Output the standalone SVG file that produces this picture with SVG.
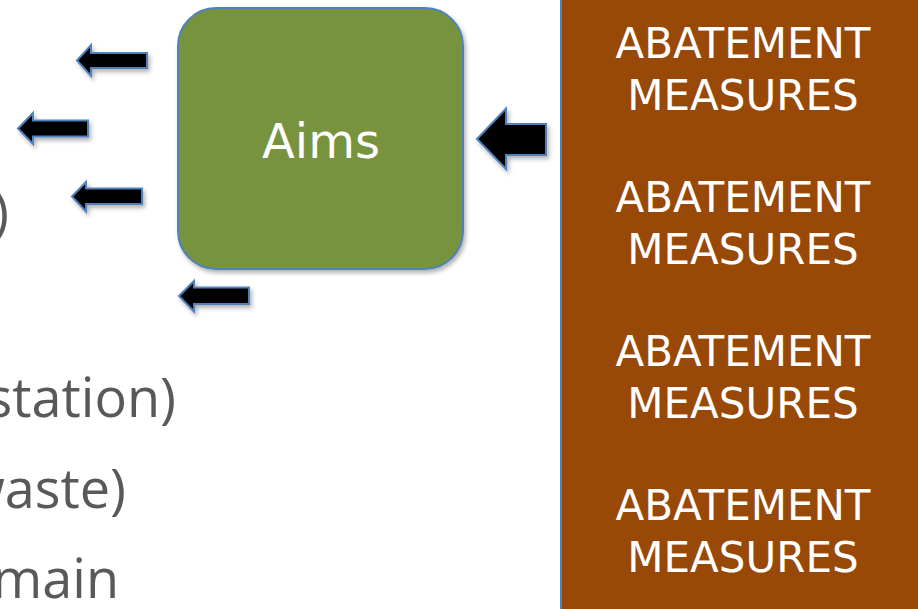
<svg xmlns="http://www.w3.org/2000/svg" width="918" height="609" viewBox="0 0 918 609">
  <defs>
    <filter id="sh" x="-20%" y="-20%" width="140%" height="140%">
      <feDropShadow dx="2" dy="3" stdDeviation="2" flood-color="#000" flood-opacity="0.3"/>
    </filter>
  </defs>
  <style>
    .arrow { fill: #000; stroke: #4F81BD; stroke-width: 2; stroke-linejoin: miter; filter: url(#sh); }
    .side { font-family: "Open Sans", "Liberation Sans", sans-serif; font-size: 54px; fill: #595959; text-anchor: end; }
    .abate { font-family: "DejaVu Sans", Verdana, sans-serif; font-size: 42px; fill: #FFFFFF; text-anchor: middle; }
  </style>
  <rect width="918" height="609" fill="#FFFFFF"/>

  <g id="side-text">
    <text class="side" x="9" y="231">)</text>
    <text class="side" x="176" y="417">station)</text>
    <text class="side" x="126" y="508">waste)</text>
    <text class="side" x="119" y="598" font-size="51">main</text>
  </g>

  <g id="abatement">
    <rect x="561" y="-5" width="362" height="620" fill="#984807" stroke="#4F81BD" stroke-width="2"/>
    <text class="abate" x="743" y="58">ABATEMENT</text>
    <text class="abate" x="743" y="110">MEASURES</text>
    <text class="abate" x="743" y="212">ABATEMENT</text>
    <text class="abate" x="743" y="264">MEASURES</text>
    <text class="abate" x="743" y="366">ABATEMENT</text>
    <text class="abate" x="743" y="418">MEASURES</text>
    <text class="abate" x="743" y="520">ABATEMENT</text>
    <text class="abate" x="743" y="572">MEASURES</text>
  </g>

  <g id="aims">
    <rect x="178" y="8" width="285" height="261" rx="38" ry="38" fill="#77933C" stroke="#4F81BD" stroke-width="2" filter="url(#sh)"/>
    <text x="321" y="158" font-family="DejaVu Sans, Verdana, sans-serif" font-size="48" fill="#FFFFFF" text-anchor="middle">Aims</text>
  </g>

  <g id="connectors">
    <polygon class="arrow" points="77,60.5 91,45 91,53 147,53 147,68 91,68 91,76"/>
    <polygon class="arrow" points="18,128.5 33,113 33,120.5 88,120.5 88,136.5 33,136.5 33,144"/>
    <polygon class="arrow" points="72,196.5 86,182 86,188.5 142,188.5 142,204 86,204 86,211.5"/>
    <polygon class="arrow" points="179,296 194,281 194,287.5 249,287.5 249,304 194,304 194,311.5"/>
    <polygon class="arrow" points="477,139 506,108.5 506,124 546,124 546,155 506,155 506,169"/>
  </g>
</svg>
